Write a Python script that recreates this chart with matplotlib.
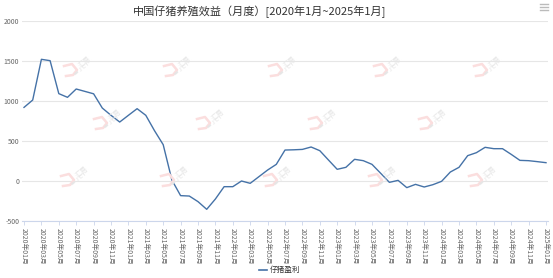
import numpy as np
import matplotlib.pyplot as plt

plt.rcParams['font.family'] = ['Noto Sans CJK SC', 'DejaVu Sans']

# 月度数据 2020-01 ~ 2025-01
months = ['%d年%02d月' % (2020 + i // 12, i % 12 + 1) for i in range(61)]
profit = [920, 1012, 1521, 1504, 1092, 1046, 1150, 1120, 1090, 912,
          821, 737, 821, 904, 821, 629, 454, 12, -183, -188,
          -258, -354, -225, -71, -71, 0, -29, 54, 137, 208,
          387, 390, 395, 425, 379, 262, 146, 171, 271, 254,
          208, 96, -17, 8, -83, -42, -75, -46, -4, 112,
          171, 317, 354, 421, 404, 404, 333, 258, 254, 242,
          229]
yticks = [-500, 0, 500, 1000, 1500, 2000]

# 水印位置 (像素)
wm_pos = [(80, 67), (180, 67), (285, 67), (390, 67), (490, 67),
          (110, 120), (213, 120), (325, 120), (435, 120),
          (77, 177), (177, 177), (280, 177), (385, 177), (485, 177)]

W, H = 553, 278
x = np.arange(len(profit))

fig = plt.figure(figsize=(5.53, 2.78), dpi=100)
ax = fig.add_axes([22/W, 57/H, 526/W, 200/H])

# 水印
for px, py in wm_pos:
    fx, fy = px / W, 1 - py / H
    xs = [px-16, px-8, px-3, px-7, px-14]
    ys = [py-1, py-3, py+3, py+8, py+9]
    fig.lines.append(plt.Line2D([v/W for v in xs], [1 - v/H for v in ys],
                                color='#fbdede', linewidth=1.8, transform=fig.transFigure,
                                zorder=0, solid_joinstyle='round'))
    fig.text(fx + 5/W, fy + 5/H, '汇易', rotation=40, fontsize=5, color='#e6e6e6',
             ha='center', va='center', zorder=0)
    fig.text(fx + 2/W, fy - 2/H, '▬ J C I', rotation=40, fontsize=4, color='#e6e6e6',
             ha='center', va='center', zorder=0)

ax.patch.set_alpha(0)
ax.plot(x, profit, color='#4572A7', linewidth=1.0)

ax.set_ylim(-500, 2000)
ax.set_xlim(-0.23, 60.23)
ax.set_yticks(yticks)
ax.set_yticklabels([str(v) for v in yticks], fontsize=5, color='#666666')
ax.yaxis.grid(True, color='#e6e6e6', linewidth=0.8)
ax.tick_params(axis='y', length=0, pad=2)

ax.set_xticks(x[::2])
ax.set_xticklabels(months[::2], rotation=-90, fontsize=4.9, color='#666666')
ax.tick_params(axis='x', length=3, color='#ccd6eb', width=0.6, pad=2)

for s in ['top', 'right', 'left']:
    ax.spines[s].set_visible(False)
ax.spines['bottom'].set_color('#ccd6eb')
ax.spines['bottom'].set_linewidth(0.8)
ax.set_axisbelow(True)

fig.text(260/W, 1 - 12/H, '中国仔猪养殖效益（月度）[2020年1月~2025年1月]',
         ha='center', va='center', fontsize=8, color='#333333')

# 图例
fig.lines.append(plt.Line2D([259/W, 267/W], [1 - 270/H, 1 - 270/H],
                            color='#4572A7', linewidth=1.2, transform=fig.transFigure))
fig.text(270/W, 1 - 270/H, '仔猪盈利', ha='left', va='center', fontsize=5.5, color='#333333')

# 菜单图标
for dy in [4, 7, 10]:
    fig.lines.append(plt.Line2D([540/W, 548/W], [1 - dy/H, 1 - dy/H],
                                color='#bbbbbb', linewidth=1, transform=fig.transFigure))

fig.savefig('out.png', dpi=100)
